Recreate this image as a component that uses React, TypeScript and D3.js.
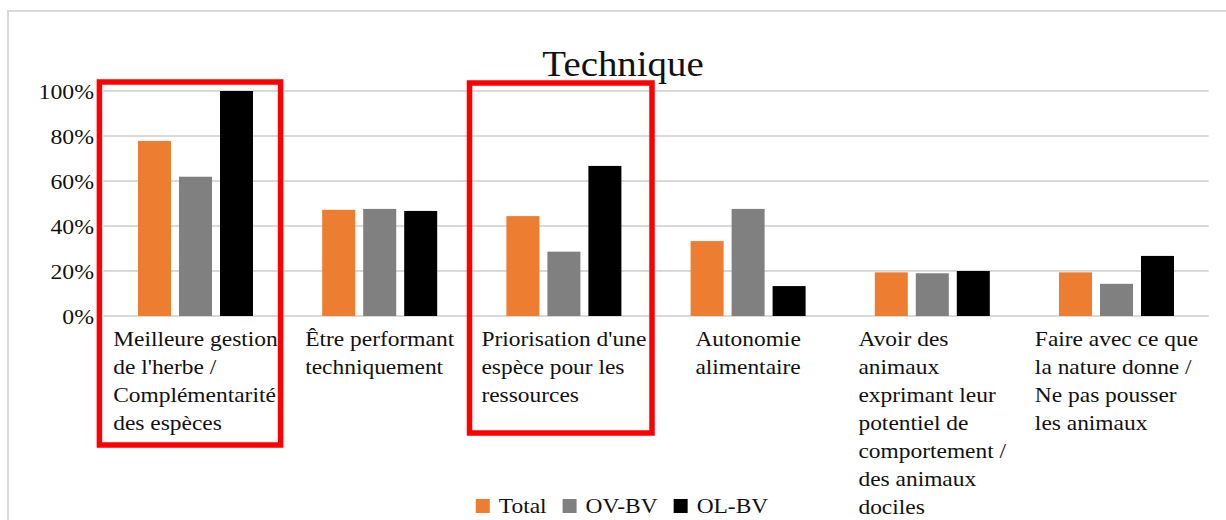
import React, { useEffect, useRef } from "react";
import * as d3 from "d3";

const title = "Technique";
const categories = [
  "Meilleure gestion de l'herbe / Complémentarité des espèces",
  "Être performant techniquement",
  "Priorisation d'une espèce pour les ressources",
  "Autonomie alimentaire",
  "Avoir des animaux exprimant leur potentiel de comportement / des animaux dociles",
  "Faire avec ce que la nature donne / Ne pas pousser les animaux",
];
const categoryLines = [
  ["Meilleure gestion", "de l'herbe /", "Complémentarité", "des espèces"],
  ["Être performant", "techniquement"],
  ["Priorisation d'une", "espèce pour les", "ressources"],
  ["Autonomie", "alimentaire"],
  ["Avoir des", "animaux", "exprimant leur", "potentiel de", "comportement /", "des animaux", "dociles"],
  ["Faire avec ce que", "la nature donne /", "Ne pas pousser", "les animaux"],
];
const seriesNames = ["Total", "OV-BV", "OL-BV"];
const seriesColors = ["#ed7d31", "#808080", "#000000"];
const totalValues = [0.778, 0.472, 0.444, 0.333, 0.194, 0.194];
const ovbvValues = [0.619, 0.476, 0.286, 0.476, 0.19, 0.143];
const olbvValues = [1.0, 0.467, 0.667, 0.133, 0.2, 0.267];
const seriesValues = [totalValues, ovbvValues, olbvValues];
const yTicks = [0, 0.2, 0.4, 0.6, 0.8, 1.0];
const highlighted = [0, 2];

export default function App() {
  const ref = useRef<SVGSVGElement>(null);

  useEffect(() => {
    document.body.style.margin = "0";
    const svg = d3.select(ref.current);
    svg.selectAll("*").remove();
    const font = "'Liberation Serif', 'Times New Roman', serif";
    const SX = 1.065;

    const place = (sel: any, x: number, y: number, sx: number) =>
      sel.attr("transform", `translate(${x},${y}) scale(${sx},1)`);

    svg.append("rect").attr("x", 8).attr("y", 11).attr("width", 1240).attr("height", 540)
      .attr("fill", "#fff").attr("stroke", "#d9d9d9").attr("stroke-width", 2);

    const x0 = d3.scaleBand<string>().domain(categories).range([103.4, 1208.6]);
    const y = d3.scaleLinear().domain([0, 1]).range([316, 91]);
    const groupW = 115;
    const x1 = d3.scaleBand<string>().domain(seriesNames).range([0, groupW]).paddingInner(0.195);
    const off = (x0.bandwidth() - groupW) / 2;

    // gridlines
    svg.append("g").selectAll("line").data(yTicks).join("line")
      .attr("x1", x0.range()[0]).attr("x2", x0.range()[1])
      .attr("y1", (d) => y(d)).attr("y2", (d) => y(d))
      .attr("stroke", "#d9d9d9").attr("stroke-width", 2);

    // tick labels
    const fmt = d3.format(".0%");
    yTicks.forEach((t) => {
      const el = svg.append("text")
        .attr("text-anchor", "end").attr("dominant-baseline", "central")
        .attr("font-family", font).attr("font-size", 22).attr("fill", "#111")
        .text(fmt(t));
      place(el, 94, y(t) + 1, 1.08);
    });

    // bars
    seriesNames.forEach((s, si) => {
      svg.append("g").selectAll("rect").data(seriesValues[si]).join("rect")
        .attr("x", (d, i) => (x0(categories[i]) as number) + off + (x1(s) as number))
        .attr("width", x1.bandwidth())
        .attr("y", (d) => y(d))
        .attr("height", (d) => y(0) - y(d))
        .attr("fill", seriesColors[si]);
    });

    // category labels
    categories.forEach((c, i) => {
      const g = svg.append("g");
      const els = categoryLines[i].map((line) =>
        g.append("text").attr("font-family", font).attr("font-size", 22).attr("fill", "#111").text(line)
      );
      let maxW = 0;
      els.forEach((e) => {
        maxW = Math.max(maxW, (e.node() as SVGTextElement).getComputedTextLength() * SX);
      });
      const cx = (x0(c) as number) + x0.bandwidth() / 2;
      els.forEach((e, j) => place(e, cx - maxW / 2, 346 + j * 28, SX));
    });

    // title
    const tt = svg.append("text").attr("text-anchor", "middle")
      .attr("font-family", font).attr("font-size", 36).attr("fill", "#111").text(title);
    place(tt, 623, 76, 1.08);

    // legend
    const lg = svg.append("g");
    let cursor = 0;
    seriesNames.forEach((s, i) => {
      const t = lg.append("text").attr("font-family", font)
        .attr("font-size", 22).attr("fill", "#111").text(s);
      const w = (t.node() as SVGTextElement).getComputedTextLength() * SX;
      lg.append("rect").attr("x", cursor).attr("y", 499).attr("width", 14).attr("height", 14)
        .attr("fill", seriesColors[i]);
      place(t, cursor + 23, 513, SX);
      cursor += 23 + w + (i < seriesNames.length - 1 ? 16 : 0);
    });
    lg.attr("transform", `translate(${622 - cursor / 2},0)`);

    // red highlight boxes
    const bottoms = [445, 433];
    highlighted.forEach((ci, k) => {
      const bx = x0(categories[ci]) as number;
      const left = bx - (k === 0 ? 4 : 2.3);
      const right = bx + x0.bandwidth() - (k === 0 ? 7 : 4);
      const top = y(1) - (k === 0 ? 9 : 8);
      svg.append("rect").attr("x", left).attr("y", top)
        .attr("width", right - left).attr("height", bottoms[k] - top)
        .attr("fill", "none").attr("stroke", "#ff0000").attr("stroke-width", 5.5);
    });
  }, []);

  return <svg ref={ref} width={1226} height={520} style={{ display: "block" }} />;
}
